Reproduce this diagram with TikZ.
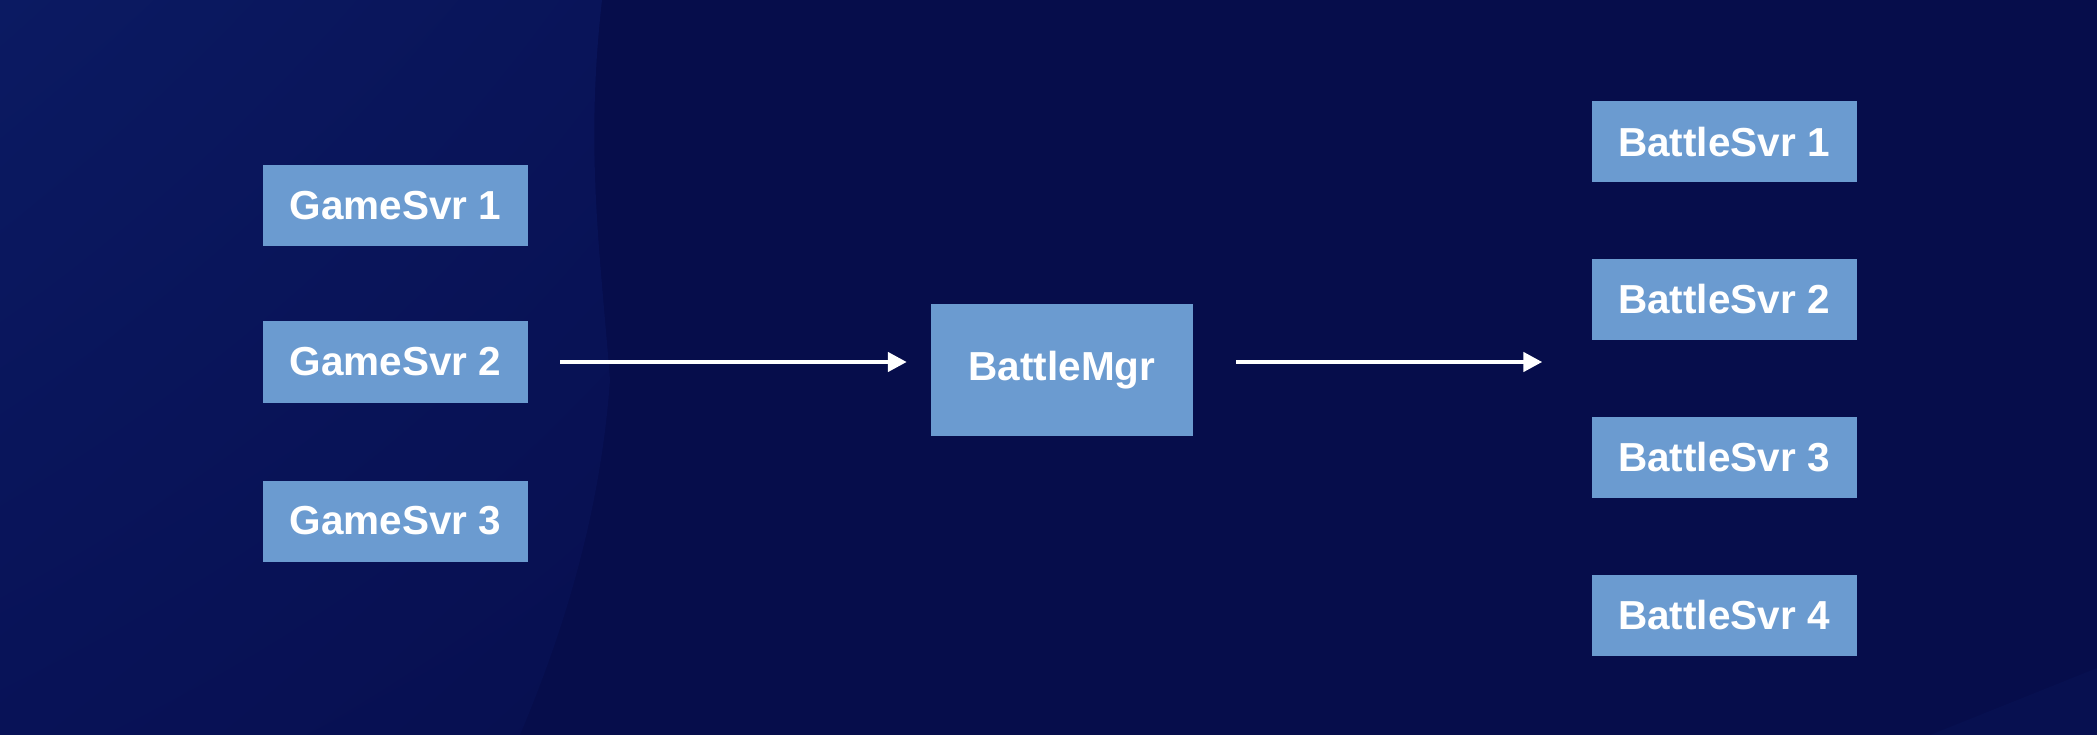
\documentclass[tikz,border=0pt]{standalone}
\usepackage{fontspec}
\setmainfont{Liberation Sans}
\usetikzlibrary{arrows.meta,shadings}
\definecolor{bgdark}{HTML}{060D4B}
\definecolor{bgul}{HTML}{0B1A62}
\definecolor{bgur}{HTML}{091459}
\definecolor{bgll}{HTML}{081257}
\definecolor{bglr}{HTML}{070F50}
\definecolor{boxblue}{HTML}{6B9BD0}
\tikzset{
  srv/.style={fill=boxblue, draw=none, text=white, inner sep=0pt,
    minimum width=265pt, minimum height=81pt,
    font=\fontsize{40.5}{48}\selectfont\bfseries},
  mgr/.style={srv, minimum width=262pt, minimum height=132pt},
  arr/.style={draw=white, line width=4.5pt,
    -{Triangle[length=19pt,width=19pt]}}
}
\begin{document}
\begin{tikzpicture}[x=1pt,y=-1pt]
\fill[bgdark] (0,0) rectangle (2097,735);
\useasboundingbox (0,0) rectangle (2097,735);
\shade[upper left=bgul, upper right=bgur, lower left=bgll, lower right=bglr]
  (0,0) -- (602,0) .. controls (585,150) and (600,250) .. (610,380)
  .. controls (600,520) and (560,640) .. (520,735) -- (0,735) -- cycle;
\fill[bgdark!80!bgul] (1930,735) -- (2097,668) -- (2097,735) -- cycle;

\node[srv] (g1) at (395.5,206) {GameSvr 1};
\node[srv] (g2) at (395.5,362) {GameSvr 2};
\node[srv] (g3) at (395.5,521) {GameSvr 3};
\node[mgr] (bm) at (1062,370) {BattleMgr};
\node[srv] (b1) at (1724,142) {BattleSvr 1};
\node[srv] (b2) at (1724,299.5) {BattleSvr 2};
\node[srv] (b3) at (1724,457) {BattleSvr 3};
\node[srv] (b4) at (1724,615) {BattleSvr 4};

\draw[arr] ([xshift=32pt]g2.east) -- ([xshift=-24pt]g2.east -| bm.west);
\draw[arr] ([xshift=43pt]g2.east -| bm.east) -- ([xshift=-49pt]g2.east -| b2.west);
\end{tikzpicture}
\end{document}
